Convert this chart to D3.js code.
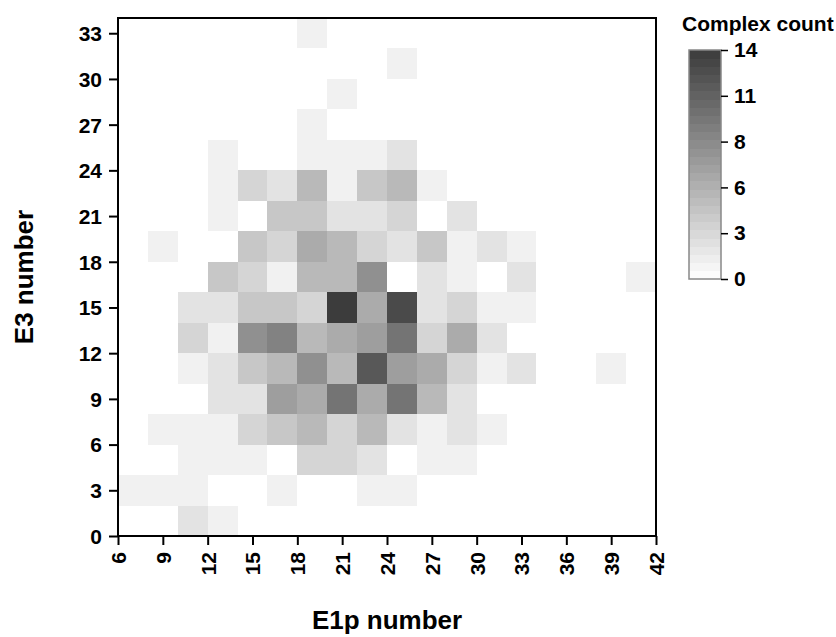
<!DOCTYPE html>
<html><head><meta charset="utf-8">
<script src="https://cdn.jsdelivr.net/npm/d3@7"></script>
<style>
body{margin:0;background:#fff}
text{font-family:"Liberation Sans",Arial,sans-serif;font-weight:bold;fill:#000}
</style>
</head><body>
<svg id="chart" width="836" height="637"></svg>
<script>
// E1p bin starts (x), E3 bin starts (y), bin width 2
const e1pBins = [6,8,10,12,14,16,18,20,22,24,26,28,30,32,34,36,38,40];
const e3Bins  = [0,2,4,6,8,10,12,14,16,18,20,22,24,26,28,30,32];
const binSize = 2;
// counts[row][col]: row = E3 bin (bottom to top), col = E1p bin (left to right)
const counts = [
  [0,0,2,1,0,0,0,0,0,0,0,0,0,0,0,0,0,0],
  [1,1,1,0,0,1,0,0,1,1,0,0,0,0,0,0,0,0],
  [0,0,1,1,1,0,3,3,2,0,1,1,0,0,0,0,0,0],
  [0,1,1,1,3,4,5,3,5,2,1,2,1,0,0,0,0,0],
  [0,0,0,2,2,7,6,10,6,10,5,2,0,0,0,0,0,0],
  [0,0,1,2,4,5,8,5,12,7,6,3,1,2,0,0,1,0],
  [0,0,3,1,8,9,5,6,7,10,3,6,2,0,0,0,0,0],
  [0,0,2,2,4,4,3,14,6,13,2,3,1,1,0,0,0,0],
  [0,0,0,4,3,1,5,5,8,0,2,1,0,2,0,0,0,1],
  [0,1,0,0,4,3,6,5,3,2,4,1,2,1,0,0,0,0],
  [0,0,0,1,0,4,4,2,2,3,0,2,0,0,0,0,0,0],
  [0,0,0,1,3,2,5,1,4,5,1,0,0,0,0,0,0,0],
  [0,0,0,1,0,0,1,1,1,2,0,0,0,0,0,0,0,0],
  [0,0,0,0,0,0,1,0,0,0,0,0,0,0,0,0,0,0],
  [0,0,0,0,0,0,0,1,0,0,0,0,0,0,0,0,0,0],
  [0,0,0,0,0,0,0,0,0,1,0,0,0,0,0,0,0,0],
  [0,0,0,0,0,0,1,0,0,0,0,0,0,0,0,0,0,0]
];
const xTicks = [6,9,12,15,18,21,24,27,30,33,36,39,42];
const yTicks = [0,3,6,9,12,15,18,21,24,27,30,33];
const colorTickValues = [0,2.8,5.6,8.4,11.2,14];
const colorTickLabels = ["0","3","6","8","11","14"];
const xTitle = "E1p number", yTitle = "E3 number", colorTitle = "Complex count";

const svg = d3.select("#chart");
const x = d3.scaleLinear().domain([6,42]).range([118,656]);
const y = d3.scaleLinear().domain([0,34]).range([536,18]);
const color = d3.scaleLinear().domain([0,14]).range(["#ffffff","#3c3c3c"]);

const cells = [];
counts.forEach((row,j)=>row.forEach((v,i)=>{ if(v>0) cells.push({x:e1pBins[i], y:e3Bins[j], v}); }));

svg.append("g").selectAll("rect").data(cells).join("rect")
  .attr("x", d=>x(d.x)).attr("y", d=>y(d.y+binSize))
  .attr("width", d=>x(d.x+binSize)-x(d.x)).attr("height", d=>y(d.y)-y(d.y+binSize))
  .attr("fill", d=>color(d.v)).attr("shape-rendering","crispEdges");

// frame
svg.append("rect").attr("x",x(6)).attr("y",y(34)).attr("width",x(42)-x(6)).attr("height",y(0)-y(34))
  .attr("fill","none").attr("stroke","#000").attr("stroke-width",2);

const yAxis = svg.append("g").attr("transform",`translate(${x(6)},0)`)
  .call(d3.axisLeft(y).tickValues(yTicks).tickSize(9).tickPadding(7));
yAxis.select(".domain").remove();
yAxis.selectAll("line").attr("stroke","#000").attr("stroke-width",2);
yAxis.selectAll("text").attr("font-size",21).attr("font-family",null).attr("dy","0.35em");

const xAxis = svg.append("g").attr("transform",`translate(0,${y(0)})`)
  .call(d3.axisBottom(x).tickValues(xTicks).tickSize(9).tickPadding(7));
xAxis.select(".domain").remove();
xAxis.selectAll("line").attr("stroke","#000").attr("stroke-width",2);
xAxis.selectAll("text").attr("font-size",21).attr("font-family",null)
  .attr("transform","rotate(-90)").attr("text-anchor","end")
  .attr("x",-16).attr("y",0).attr("dy","0.35em");

svg.append("text").attr("x",(x(6)+x(42))/2).attr("y",629).attr("text-anchor","middle")
  .attr("font-size",26).text(xTitle);
svg.append("text").attr("transform",`translate(33,${(y(0)+y(34))/2}) rotate(-90)`)
  .attr("text-anchor","middle").attr("font-size",26).text(yTitle);

// colorbar
const cb = {x:689, w:32, top:50, bottom:279};
const cy = d3.scaleLinear().domain([0,14]).range([cb.bottom, cb.top]);
const nSteps = 28;
const steps = d3.range(nSteps).map(k=>({lo:14*k/nSteps, hi:14*(k+1)/nSteps}));
svg.append("g").selectAll("rect").data(steps).join("rect")
  .attr("x",cb.x).attr("width",cb.w)
  .attr("y",d=>cy(d.hi)).attr("height",d=>cy(d.lo)-cy(d.hi)+0.5)
  .attr("fill",d=>color((d.lo+d.hi)/2)).attr("shape-rendering","crispEdges");
svg.append("rect").attr("x",cb.x).attr("y",cb.top).attr("width",cb.w).attr("height",cb.bottom-cb.top)
  .attr("fill","none").attr("stroke","#888").attr("stroke-width",1.5);
const cAxis = svg.append("g").attr("transform",`translate(${cb.x+cb.w},0)`)
  .call(d3.axisRight(cy).tickValues(colorTickValues).tickFormat((d,i)=>colorTickLabels[i]).tickSize(7).tickPadding(6));
cAxis.select(".domain").remove();
cAxis.selectAll("line").attr("stroke","#000").attr("stroke-width",1.5);
cAxis.selectAll("text").attr("font-size",21).attr("font-family",null);
svg.append("text").attr("x",682).attr("y",31).attr("font-size",21).text(colorTitle);
</script>
</body></html>
